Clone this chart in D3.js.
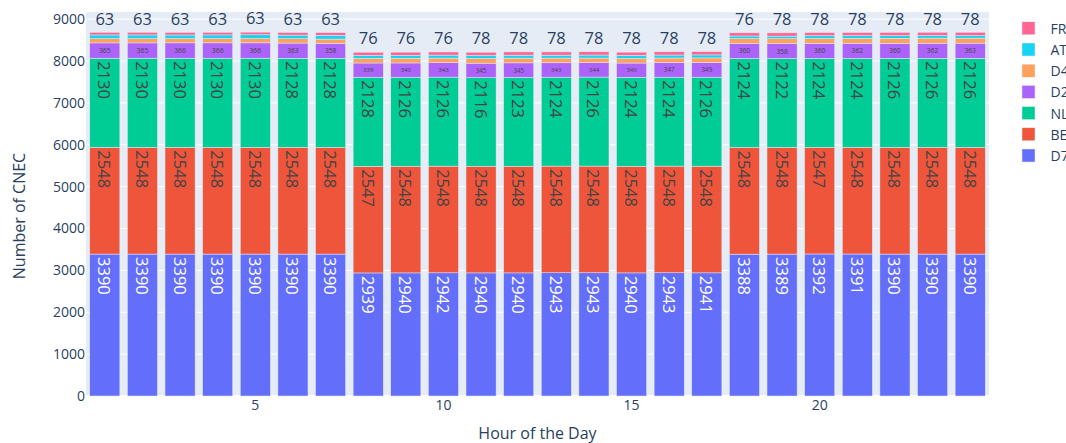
<!DOCTYPE html>
<html><head><meta charset="utf-8">
<script src="https://cdn.jsdelivr.net/npm/d3@7"></script>
<style>body{margin:0;background:#fff}svg{display:block;font-family:"Open Sans",sans-serif}</style>
</head><body>
<svg id="c" width="1066" height="443"></svg>
<script>
const hours = [1,2,3,4,5,6,7,8,9,10,11,12,13,14,15,16,17,18,19,20,21,22,23,24];
const seriesNames = ["D7","BE","NL","D2","D4","AT","FR"];
const D7 = [3390,3390,3390,3390,3390,3390,3390, 2939,2940,2942,2940,2940,2943,2943,2940,2943,2941, 3388,3389,3392,3391,3390,3390,3390];
const BE = [2548,2548,2548,2548,2548,2548,2548, 2547,2548,2548,2548,2548,2548,2548,2548,2548,2548, 2548,2548,2547,2548,2548,2548,2548];
const NL = [2130,2130,2130,2130,2130,2128,2128, 2128,2126,2126,2116,2123,2124,2126,2124,2124,2126, 2124,2122,2124,2124,2126,2126,2126];
const D2 = [365,365,366,366,366,363,358, 339,340,343,345,345,343,344,340,347,349, 360,358,360,362,360,362,363];
const D4 = [104,104,103,104,102,103,100, 112,112,110,113,113,112,110,108,110,110, 116,118,118,118,120,120,120];
const AT = [86,86,85,86,91,87,92, 70,70,72,71,71,70,72,74,71,72, 62,60,62,62,62,63,62];
const FR = [63,63,63,63,63,63,63, 76,76,76,78,78,78,78,78,78,78, 76,78,78,78,78,78,78];
const colors = {D7:"#636efa",BE:"#EF553B",NL:"#00cc96",D2:"#ab63fa",D4:"#FFA15A",AT:"#19d3f3",FR:"#FF6692"};
const yTicks = [0,1000,2000,3000,4000,5000,6000,7000,8000,9000];
const xTicks = [5,10,15,20];
const xTitle = "Hour of the Day", yTitle = "Number of CNEC";

const vals = {D7,BE,NL,D2,D4,AT,FR};
const rows = hours.map((h,i)=>{const r={hour:h}; seriesNames.forEach(k=>r[k]=vals[k][i]); return r;});

const svg = d3.select("#c");
const L=86, R=989, T=12, B=396;
const x = d3.scaleBand().domain(hours).range([L,R]).paddingInner(0.2).paddingOuter(0.1);
const y = d3.scaleLinear().domain([0,9171]).range([B,T]);
const txtCol = "#2a3f5f";

svg.append("rect").attr("x",L).attr("y",T).attr("width",R-L).attr("height",B-T).attr("fill","#E5ECF6");
svg.append("g").selectAll("line").data(yTicks.slice(1)).join("line")
  .attr("x1",L).attr("x2",R).attr("y1",d=>y(d)).attr("y2",d=>y(d)).attr("stroke","#fff").attr("stroke-width",1);
svg.append("line").attr("x1",L).attr("x2",R).attr("y1",y(0)).attr("y2",y(0)).attr("stroke","#fff").attr("stroke-width",2);

const stacked = d3.stack().keys(seriesNames)(rows);
const bars = svg.append("g");
stacked.forEach(layer=>{
  bars.append("g").selectAll("rect").data(layer).join("rect")
    .attr("x",d=>x(d.data.hour)).attr("width",x.bandwidth())
    .attr("y",d=>y(d[1])).attr("height",d=>y(d[0])-y(d[1]))
    .attr("fill",colors[layer.key]).attr("stroke","#E5ECF6").attr("stroke-width",0.5);
});

const FS=16.5, PAD=3;
const meas = svg.append("text").attr("font-size",FS).attr("visibility","hidden");
function tw(s){meas.text(s);return meas.node().getComputedTextLength();}
function textColor(c){const r=d3.rgb(c);const b=(r.r*299+r.g*587+r.b*114)/1000;return b>=128?"#444":"#fff";}
const labels = svg.append("g");
stacked.forEach((layer,li)=>{
  const last = li===stacked.length-1;
  layer.forEach(d=>{
    const s = String(d.data[layer.key]);
    const w = tw(s), h = FS*1.36;
    const x0 = x(d.data.hour), bw = x.bandwidth();
    const top = y(d[1]), bot = y(d[0]);
    const lx = bw-2*PAD, ly = (bot-top)-2*PAD;
    const xc = x0+bw/2;
    if(last && (w>lx || h>ly)){
      labels.append("text").attr("x",xc).attr("y",top-PAD-h/2).attr("text-anchor","middle")
        .attr("dominant-baseline","central").attr("font-size",FS).attr("fill",txtCol).text(s);
      return;
    }
    let rot = false;
    if((w>lx||h>ly) && ((w>h)!==(lx>ly))) rot = true;
    const ew = rot?h:w, eh = rot?w:h;
    const sc = Math.min(1, lx/ew, ly/eh);
    if(sc<=0) return;
    const cy = top+PAD+eh*sc/2;
    labels.append("text").attr("transform",`translate(${xc},${cy}) rotate(${rot?90:0})`)
      .attr("text-anchor","middle").attr("dominant-baseline","central")
      .attr("font-size",FS*sc).attr("fill",textColor(colors[layer.key])).text(s);
  });
});

const ya = svg.append("g").attr("transform",`translate(${L-1},0)`)
  .call(d3.axisLeft(y).tickValues(yTicks).tickFormat(d3.format("d")).tickSize(0).tickPadding(0));
ya.select(".domain").remove();
ya.selectAll("text").attr("font-size",14).attr("fill",txtCol).attr("font-family","Open Sans");
const xa = svg.append("g").attr("transform",`translate(0,${B})`)
  .call(d3.axisBottom(x).tickValues(xTicks).tickSize(0).tickPadding(4));
xa.select(".domain").remove();
xa.selectAll("text").attr("font-size",14).attr("fill",txtCol).attr("font-family","Open Sans");

svg.append("text").attr("x",(L+R)/2).attr("y",439).attr("text-anchor","middle").attr("font-size",16).attr("fill",txtCol).text(xTitle);
svg.append("text").attr("transform",`translate(25,216) rotate(-90)`).attr("text-anchor","middle").attr("font-size",16).attr("fill",txtCol).text(yTitle);

const legOrder = seriesNames.slice().reverse();
const lg = svg.append("g");
legOrder.forEach((k,i)=>{
  const cy = 28.3+i*21.2;
  lg.append("rect").attr("x",1022).attr("y",cy-6.5).attr("width",13).attr("height",13).attr("fill",colors[k]).attr("stroke","#E5ECF6").attr("stroke-width",0.5);
  lg.append("text").attr("x",1050.5).attr("y",cy).attr("dominant-baseline","central").attr("font-size",14).attr("fill",txtCol).text(k);
});
</script>
</body></html>
